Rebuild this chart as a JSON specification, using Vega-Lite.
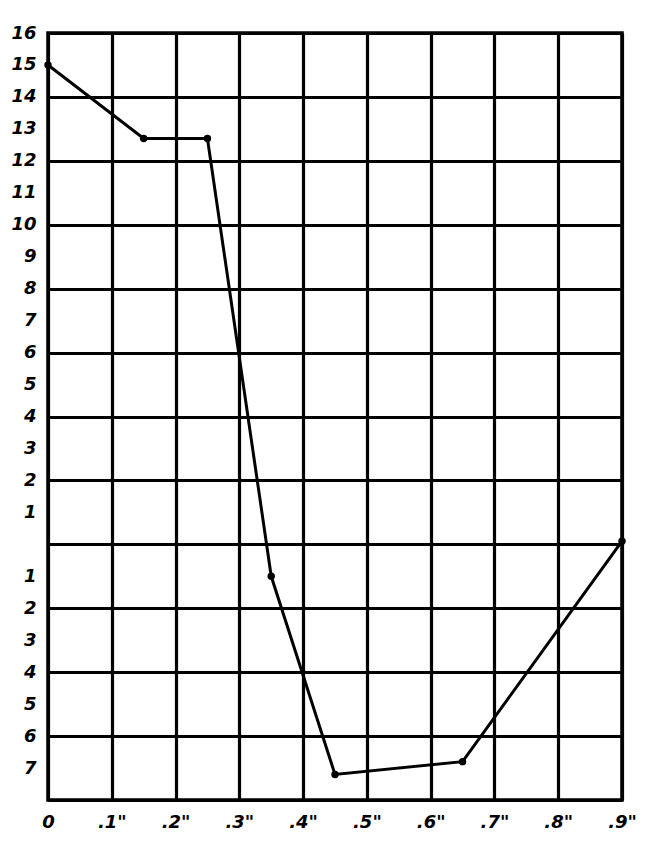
{
  "$schema": "https://vega.github.io/schema/vega-lite/v6.json",
  "autosize": "none",
  "padding": {"left": 48, "top": 33, "right": 37, "bottom": 50},
  "width": 574,
  "height": 767,
  "background": "white",
  "config": {
    "view": {"stroke": "black", "strokeWidth": 3.5},
    "axis": {
      "labelFont": "DejaVu Sans",
      "labelFontWeight": "bold",
      "labelFontStyle": "italic",
      "labelFontSize": 18,
      "labelColor": "black",
      "domain": false,
      "ticks": false,
      "title": null
    }
  },
  "data": {
    "values": [
      {"x": 0, "y": 15},
      {"x": 0.15, "y": 12.7},
      {"x": 0.25, "y": 12.7},
      {"x": 0.35, "y": -1},
      {"x": 0.45, "y": -7.2},
      {"x": 0.65, "y": -6.8},
      {"x": 0.9, "y": 0.1}
    ]
  },
  "encoding": {
    "x": {
      "field": "x", "type": "quantitative",
      "scale": {"domain": [0, 0.9], "nice": false, "zero": false},
      "axis": {
        "values": [0, 0.1, 0.2, 0.3, 0.4, 0.5, 0.6, 0.7, 0.8, 0.9],
        "labelExpr": "datum.value == 0 ? '0' : replace(format(datum.value, '.1f'), '0.', '.') + '\"'",
        "labelPadding": 13,
        "labelOverlap": false,
        "labelFlush": false,
        "grid": true,
        "gridColor": "black",
        "gridWidth": 3.2,
        "gridOpacity": 1
      }
    },
    "y": {
      "field": "y", "type": "quantitative",
      "scale": {"domain": [-8, 16], "nice": false, "zero": false},
      "axis": {
        "values": [-8, -7, -6, -5, -4, -3, -2, -1, 0, 1, 2, 3, 4, 5, 6, 7, 8, 9, 10, 11, 12, 13, 14, 15, 16],
        "labelExpr": "(datum.value == 0 || datum.value == -8) ? '' : '' + abs(datum.value)",
        "labelPadding": 12,
        "labelOverlap": false,
        "labelFlush": false,
        "grid": true,
        "gridColor": "black",
        "gridWidth": 3.2,
        "gridOpacity": {"condition": {"test": "datum.value % 2 == 0", "value": 1}, "value": 0}
      }
    }
  },
  "layer": [
    {
      "mark": {"type": "line", "color": "black", "strokeWidth": 3}
    },
    {
      "mark": {"type": "point", "filled": true, "color": "black", "size": 55, "opacity": 1}
    }
  ]
}
